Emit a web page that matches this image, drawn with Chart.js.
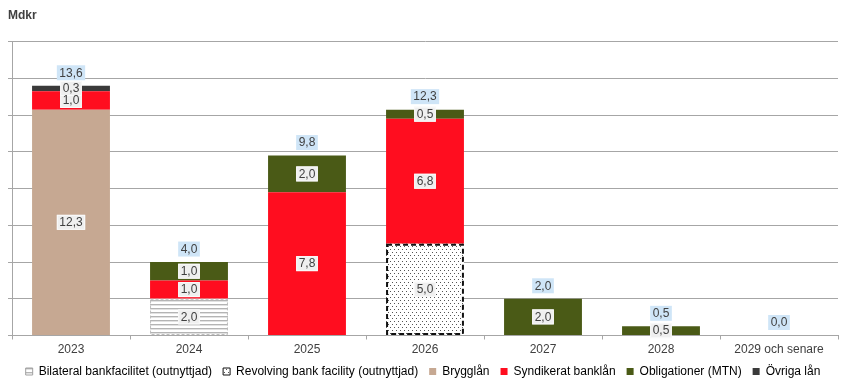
<!DOCTYPE html>
<html>
<head>
<meta charset="utf-8">
<script src="https://cdn.jsdelivr.net/npm/chart.js@4.4.1/dist/chart.umd.min.js"></script>
<style>
  html, body { margin: 0; padding: 0; background: #fff; }
</style>
</head>
<body>
<canvas id="myChart" width="850" height="390"></canvas>
<script>
// --- data (Mdkr) ---
const categories = ['2023', '2024', '2025', '2026', '2027', '2028', '2029 och senare'];
const seriesNames = ['Bilateral bankfacilitet (outnyttjad)', 'Revolving bank facility (outnyttjad)',
  'Brygglån', 'Syndikerat banklån', 'Obligationer (MTN)', 'Övriga lån'];
const bilateral    = [null, 2.0, null, null, null, null, null];
const revolving    = [null, null, null, 5.0, null, null, null];
const brygglan     = [12.3, null, null, null, null, null, null];
const syndikerat   = [1.0, 1.0, 7.8, 6.8, null, null, null];
const obligationer = [null, 1.0, 2.0, 0.5, 2.0, 0.5, null];
const ovriga       = [0.3, null, null, null, null, null, null];
const yMin = 0, yMax = 16, yStep = 2;

const FONT = "'Liberation Sans', Arial, sans-serif";
const TEXT = '#404040';
const GRID = '#a6a6a6';

Chart.defaults.font.family = FONT;
Chart.defaults.font.size = 12;
Chart.defaults.color = TEXT;

// fill patterns for the unused facilities
function makePattern(w, h, draw) {
  const c = document.createElement('canvas');
  c.width = w; c.height = h;
  const g = c.getContext('2d');
  g.fillStyle = '#ffffff';
  g.fillRect(0, 0, w, h);
  draw(g);
  return g.createPattern(c, 'repeat');
}
const stripes = makePattern(4, 4, g => {
  g.fillStyle = '#b4b4b4'; g.fillRect(0, 0, 4, 1);
  g.fillStyle = '#e2e2e2'; g.fillRect(0, 1, 4, 1);
});
const dots = makePattern(4, 6, g => {
  g.fillStyle = '#555555';
  g.fillRect(0, 0, 1, 1);
  g.fillRect(2, 3, 1, 1);
});

const seriesData = [bilateral, revolving, brygglan, syndikerat, obligationer, ovriga];
const seriesFill = [stripes, dots, '#c6a892', '#ff0d1f', '#4a5a16', '#3a3a3a'];
const seriesDash = [
  { color: '#bdbdbd', width: 1, dash: [3, 2] },
  { color: '#111111', width: 2, dash: [5, 3] },
  null, null, null, null
];

const totals = categories.map((c, i) =>
  seriesData.reduce((s, arr) => s + (arr[i] || 0), 0));

const fmt = v => v.toFixed(1).replace('.', ',');

function labelBox(ctx, text, x, y, fill, stroke) {
  const w = ctx.measureText(text).width + 5;
  const h = 15;
  ctx.fillStyle = fill;
  ctx.fillRect(x - w / 2, y - h / 2, w, h);
  if (stroke) {
    ctx.strokeStyle = stroke;
    ctx.lineWidth = 1;
    ctx.strokeRect(x - w / 2 + 0.5, y - h / 2 + 0.5, w - 1, h - 1);
  }
}

const barExtras = {
  id: 'barExtras',
  afterDatasetsDraw(chart) {
    const ctx = chart.ctx;
    ctx.save();
    // dashed outlines
    chart.data.datasets.forEach((ds, i) => {
      const d = seriesDash[i];
      if (!d) return;
      chart.getDatasetMeta(i).data.forEach((el, j) => {
        if (ds.data[j] == null) return;
        const p = el.getProps(['x', 'y', 'base', 'width'], true);
        ctx.strokeStyle = d.color;
        ctx.lineWidth = d.width;
        ctx.setLineDash(d.dash);
        const off = d.width / 2;
        ctx.strokeRect(p.x - p.width / 2 + off, p.y + off, p.width - d.width, p.base - p.y - d.width);
      });
    });
    ctx.setLineDash([]);

    // segment labels
    ctx.font = '12px ' + FONT;
    ctx.textAlign = 'center';
    ctx.textBaseline = 'middle';
    const items = [];
    chart.data.datasets.forEach((ds, i) => {
      chart.getDatasetMeta(i).data.forEach((el, j) => {
        const v = ds.data[j];
        if (v == null) return;
        const p = el.getProps(['x', 'y', 'base'], true);
        items.push({ text: fmt(v), x: p.x, y: (p.y + p.base) / 2 });
      });
    });
    items.forEach(it => labelBox(ctx, it.text, it.x, it.y, '#efefef', '#fafafa'));
    ctx.fillStyle = TEXT;
    items.forEach(it => ctx.fillText(it.text, it.x, it.y + 0.5));

    // totals
    const xs = chart.scales.x, ys = chart.scales.y;
    totals.forEach((t, i) => {
      const x = xs.getPixelForValue(i);
      const y = ys.getPixelForValue(t) - 13;
      const s = fmt(t);
      labelBox(ctx, s, x, y, '#cfe5f7');
      ctx.fillStyle = TEXT;
      ctx.fillText(s, x, y + 0.5);
    });
    ctx.restore();
  }
};

const config = {
  type: 'bar',
  data: {
    labels: categories,
    datasets: seriesNames.map((name, i) => ({
      label: name,
      data: seriesData[i],
      backgroundColor: seriesFill[i],
      borderWidth: 0,
      barPercentage: 0.66,
      categoryPercentage: 1
    }))
  },
  options: {
    responsive: false,
    animation: false,
    layout: { padding: { left: 8, right: 12, top: 0, bottom: 2.5 } },
    scales: {
      x: {
        stacked: true,
        offset: true,
        grid: { offset: true, drawOnChartArea: false, drawTicks: true, tickLength: 4, color: GRID },
        border: { display: true, color: GRID },
        ticks: { padding: 3, color: TEXT, font: { size: 12 } },
        // keep the axis box short so the legend sits close below the labels
        afterFit(scale) { scale.height = 19; }
      },
      y: {
        stacked: true,
        min: yMin,
        max: yMax,
        ticks: { display: false, stepSize: yStep },
        grid: { color: GRID, tickLength: 4 },
        border: { display: true, color: GRID }
      }
    },
    plugins: {
      title: {
        display: true,
        text: 'Mdkr',
        align: 'start',
        color: TEXT,
        font: { size: 12, weight: 'bold' },
        padding: { top: 8, bottom: 19.3 }
      },
      legend: {
        position: 'bottom',
        labels: {
          boxWidth: 7,
          boxHeight: 7,
          padding: 11,
          color: TEXT,
          font: { size: 12 },
          generateLabels(chart) {
            return chart.data.datasets.map((ds, i) => ({
              text: ds.label,
              fillStyle: seriesFill[i],
              strokeStyle: seriesDash[i] ? (i === 1 ? '#111111' : '#a0a0a0') : seriesFill[i],
              lineWidth: seriesDash[i] ? 1 : 0,
              datasetIndex: i,
              hidden: false
            }));
          }
        }
      },
      tooltip: { enabled: false }
    }
  },
  plugins: [barExtras]
};

new Chart(document.getElementById('myChart'), config);
</script>
</body>
</html>
